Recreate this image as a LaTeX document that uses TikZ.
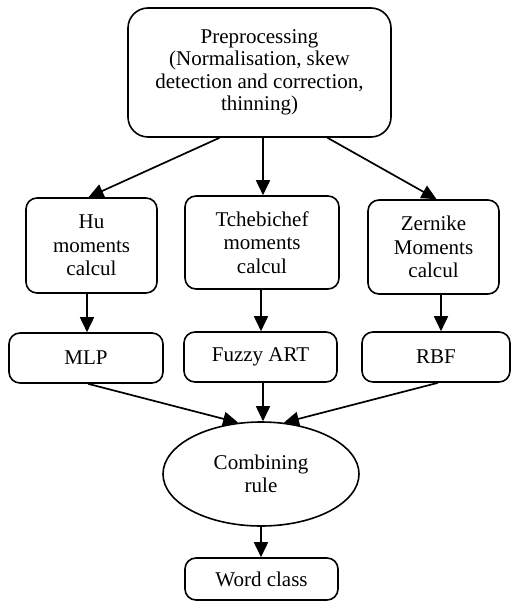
\documentclass[tikz,border=0pt]{standalone}
\usepackage{fontspec}
\setmainfont{Liberation Serif}
\usetikzlibrary{arrows.meta,shapes.geometric}
\begin{document}
\begin{tikzpicture}[x=1pt,y=-1pt,
  every node/.style={font=\fontsize{21}{22.5}\selectfont, align=center, inner sep=0pt, line width=1.6pt},
  rbox/.style={draw, rounded corners=11pt},
  bigbox/.style={draw, rounded corners=20pt},
  arr/.style={line width=1.7pt, -{Triangle[length=15pt,width=14pt]}}]
\useasboundingbox (0,0) rectangle (512,601);
\node[bigbox, minimum width=263pt, minimum height=129pt] (top) at (259.5,72.5)
  {Preprocessing\\(Normalisation, skew\\detection and correction,\\thinning)};
\node[rbox, minimum width=131pt, minimum height=95pt] (hu) at (91.5,245.5) {Hu\\[1pt]moments\\[1pt]calcul};
\node[rbox, minimum width=154pt, minimum height=93pt] (tch) at (262,242.5) {Tchebichef\\[1pt]moments\\[1pt]calcul};
\node[rbox, minimum width=131pt, minimum height=94pt] (zer) at (433.5,247) {Zernike\\[1pt]Moments\\[1pt]calcul};
\node[rbox, minimum width=154pt, minimum height=50pt] (mlp) at (86,358) {MLP};
\node[rbox, minimum width=153pt, minimum height=50pt] (fuz) at (260.5,357) {Fuzzy ART};
\node[rbox, minimum width=148pt, minimum height=50pt] (rbf) at (436,357) {RBF};
\node[draw, ellipse, minimum width=196pt, minimum height=104pt] (comb) at (261,474) {Combining\\[1pt]rule};
\node[rbox, minimum width=153pt, minimum height=42pt] (word) at (261.5,579) {Word class};
\draw[arr] ([xshift=-40pt]top.south) -- ([xshift=-3pt]hu.north);
\draw[arr] ([xshift=3.5pt]top.south) -- ([xshift=3.5pt]top.south |- tch.north);
\draw[arr] ([xshift=68pt]top.south) -- ([xshift=3pt]zer.north);
\draw[arr] ([xshift=-4.5pt]hu.south) -- ([xshift=-4.5pt]hu.south |- mlp.north);
\draw[arr] ([xshift=-1pt]tch.south) -- ([xshift=-1pt]tch.south |- fuz.north);
\draw[arr] ([xshift=7.5pt]zer.south) -- ([xshift=7.5pt]zer.south |- rbf.north);
\draw[arr] ([xshift=2pt]mlp.south) -- (comb.114);
\draw[arr] ([xshift=2.5pt]fuz.south) -- ([xshift=2.5pt]fuz.south |- comb.north);
\draw[arr] ([xshift=2pt]rbf.south) -- (comb.66);
\draw[arr] (comb.south) -- (comb.south |- word.north);
\end{tikzpicture}
\end{document}
